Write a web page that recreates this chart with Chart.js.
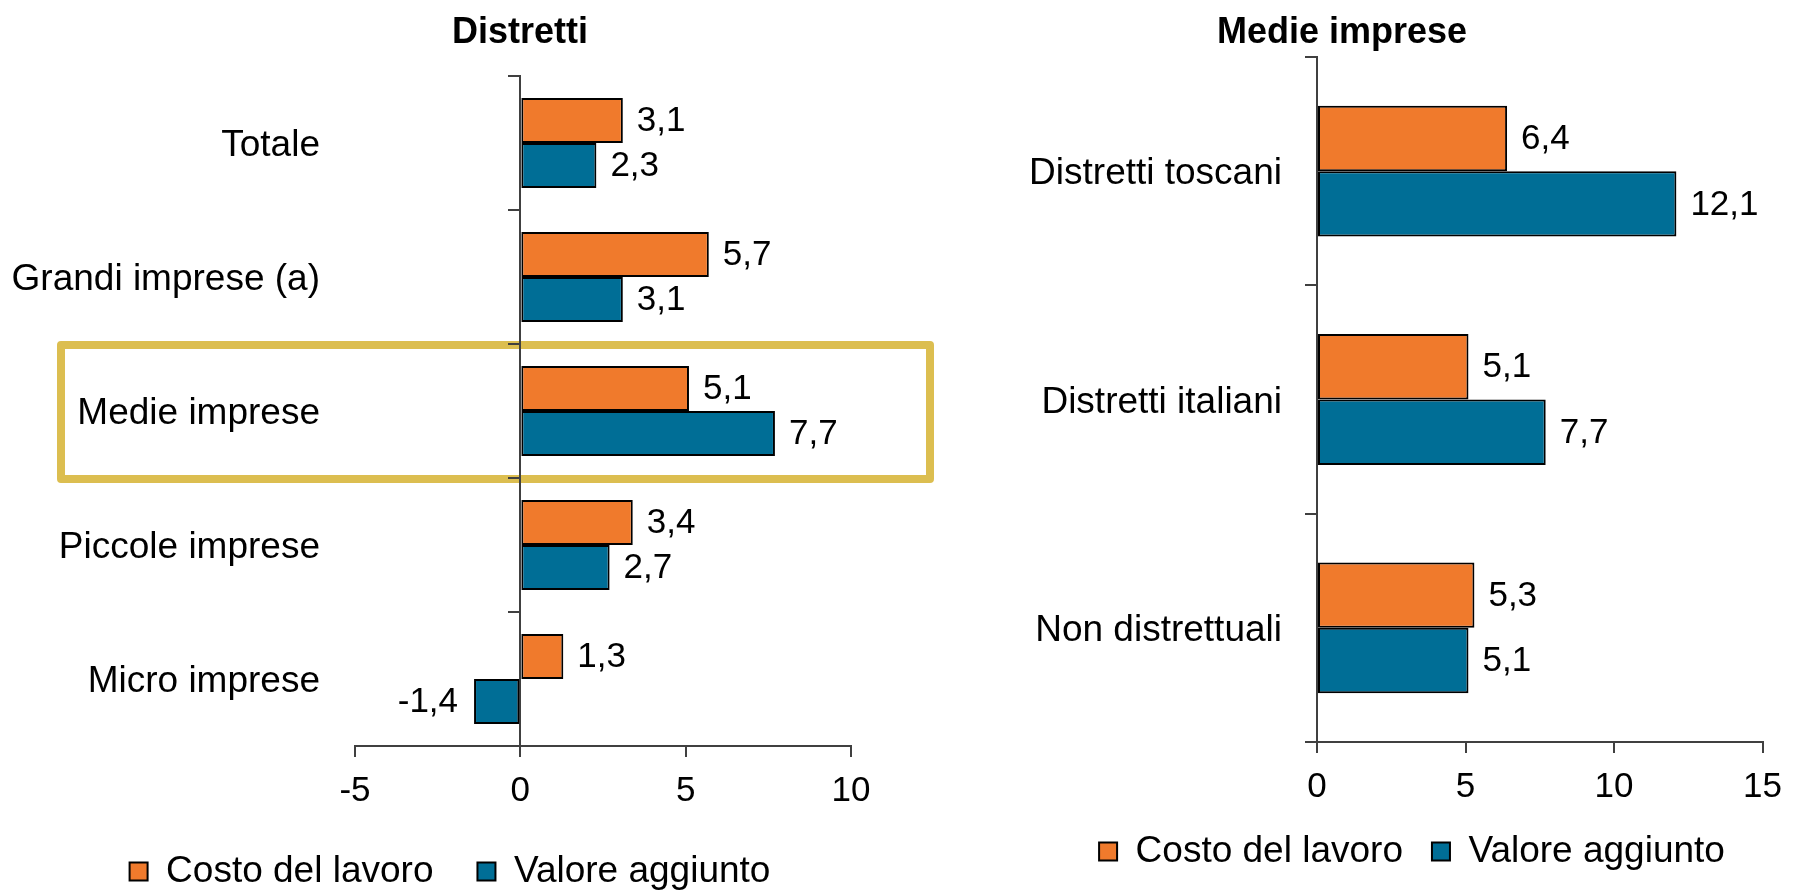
<!DOCTYPE html>
<html lang="it">
<head>
<meta charset="utf-8">
<title>Distretti - Medie imprese</title>
<script src="https://cdn.jsdelivr.net/npm/chart.js@4.4.1/dist/chart.umd.min.js"></script>
<style>
  html, body { margin: 0; padding: 0; background: #fff; }
  body { width: 1799px; height: 890px; position: relative; overflow: hidden; }
  #boxSx { position: absolute; left: 0; top: 0; width: 900px; height: 890px; }
  #boxDx { position: absolute; left: 1025px; top: 0; width: 774px; height: 890px; }
  #evidenza { position: absolute; left: 57px; top: 341px; width: 877px; height: 142px;
              border: 8px solid #dcbe50; border-radius: 4px; box-sizing: border-box; }
</style>
</head>
<body>
<div id="evidenza"></div>
<div id="boxSx"><canvas id="graficoDistretti"></canvas></div>
<div id="boxDx"><canvas id="graficoMedie"></canvas></div>
<script>
Chart.defaults.font.family = '"Liberation Sans", Arial, sans-serif';
Chart.defaults.color = '#000';
Chart.defaults.animation = false;

// Distretti
const categorie1 = ['Totale', 'Grandi imprese (a)', 'Medie imprese', 'Piccole imprese', 'Micro imprese'];
const costo1 = [3.1, 5.7, 5.1, 3.4, 1.3];
const valore1 = [2.3, 3.1, 7.7, 2.7, -1.4];
const tick1 = [-5, 0, 5, 10];

// Medie imprese
const categorie2 = ['Distretti toscani', 'Distretti italiani', 'Non distrettuali'];
const costo2 = [6.4, 5.1, 5.3];
const valore2 = [12.1, 7.7, 5.1];
const tick2 = [0, 5, 10, 15];

const arancio = '#f07a2c';
const blu = '#006e96';
const grigio = '#404040';

// valori accanto alle barre, con la virgola
const etichette = {
  id: 'etichette',
  afterDatasetsDraw(chart) {
    const ctx = chart.ctx;
    ctx.save();
    ctx.font = '35px "Liberation Sans", Arial, sans-serif';
    ctx.fillStyle = '#000';
    ctx.textBaseline = 'middle';
    chart.data.datasets.forEach((ds, i) => {
      chart.getDatasetMeta(i).data.forEach((bar, j) => {
        const v = ds.data[j];
        const txt = v.toFixed(1).replace('.', ',');
        if (v < 0) {
          ctx.textAlign = 'right';
          ctx.fillText(txt, bar.x - 16, bar.y + 1);
        } else {
          ctx.textAlign = 'left';
          ctx.fillText(txt, bar.x + 14, bar.y + 1);
        }
      });
    });
    ctx.restore();
  }
};

// titolo spostato (non centrato sul canvas)
const titolo = {
  id: 'titolo',
  afterDraw(chart, args, opt) {
    const ctx = chart.ctx;
    ctx.save();
    ctx.font = 'bold 36px "Liberation Sans", Arial, sans-serif';
    ctx.fillStyle = '#000';
    ctx.textAlign = 'center';
    ctx.textBaseline = 'middle';
    ctx.fillText(opt.text, opt.x, opt.y);
    ctx.restore();
  }
};

function grafico(id, nomi, costo, valore, ticks, o) {
  return new Chart(document.getElementById(id).getContext('2d'), {
    type: 'bar',
    data: {
      labels: nomi,
      datasets: [
        {
          label: 'Costo del lavoro',
          data: costo,
          backgroundColor: arancio,
          borderColor: '#000',
          borderWidth: 2,
          borderSkipped: false,
          yAxisID: 'y'
        },
        {
          label: 'Valore aggiunto',
          data: valore,
          backgroundColor: blu,
          borderColor: '#000',
          borderWidth: 2,
          borderSkipped: false,
          yAxisID: 'y'
        }
      ]
    },
    options: {
      indexAxis: 'y',
      responsive: true,
      maintainAspectRatio: false,
      categoryPercentage: o.cat,
      barPercentage: 1,
      layout: { padding: o.padding },
      scales: {
        x: {
          min: ticks[0],
          max: ticks[ticks.length - 1],
          afterBuildTicks: s => { s.ticks = ticks.map(v => ({ value: v })); },
          afterFit: s => { s.height = o.altX; },
          grid: { drawOnChartArea: false, tickLength: 11, color: grigio, lineWidth: 2 },
          border: { color: grigio, width: 2 },
          ticks: { font: { size: 35, lineHeight: 1 }, padding: 17 }
        },
        y: {
          afterFit: s => { s.width = o.largY; s.paddingTop = 0; s.paddingBottom = 0; },
          grid: { display: false, drawTicks: false },
          border: { display: false },
          ticks: { font: { size: 37 }, padding: 35, labelOffset: 3 }
        },
        asse: {
          type: 'category',
          axis: 'y',
          position: { x: 0 },
          offset: true,
          grid: { offset: true, drawOnChartArea: false, tickLength: 11, color: grigio, lineWidth: 2 },
          border: { color: grigio, width: 2 },
          ticks: { display: false }
        },
        // solo spazio vuoto a destra, così la legenda resta centrata sul canvas
        margine: {
          type: 'linear',
          axis: 'y',
          position: 'right',
          afterFit: s => { s.width = o.destra; },
          grid: { display: false, drawTicks: false },
          border: { display: false },
          ticks: { display: false }
        }
      },
      plugins: {
        legend: {
          position: 'bottom',
          maxHeight: 37 + o.legPad,
          labels: { boxWidth: 18, boxHeight: 18, padding: o.legPad, font: { size: 37 } }
        },
        tooltip: { enabled: false },
        titolo: { text: o.titolo, x: o.titoloX, y: 33 }
      }
    },
    plugins: [etichette, titolo]
  });
}

grafico('graficoDistretti', categorie1, costo1, valore1, tick1, {
  cat: 0.672,
  padding: { top: 76, left: 0, right: 0, bottom: 0 },
  destra: 49,
  altX: 63,
  legPad: 44,
  largY: 355,
  titolo: 'Distretti',
  titoloX: 520
});

grafico('graficoMedie', categorie2, costo2, valore2, tick2, {
  cat: 0.573,
  padding: { top: 57, left: 0, right: 0, bottom: 20 },
  destra: 22,
  altX: 62,
  legPad: 29,
  largY: 292,
  titolo: 'Medie imprese',
  titoloX: 317
});
</script>
</body>
</html>
